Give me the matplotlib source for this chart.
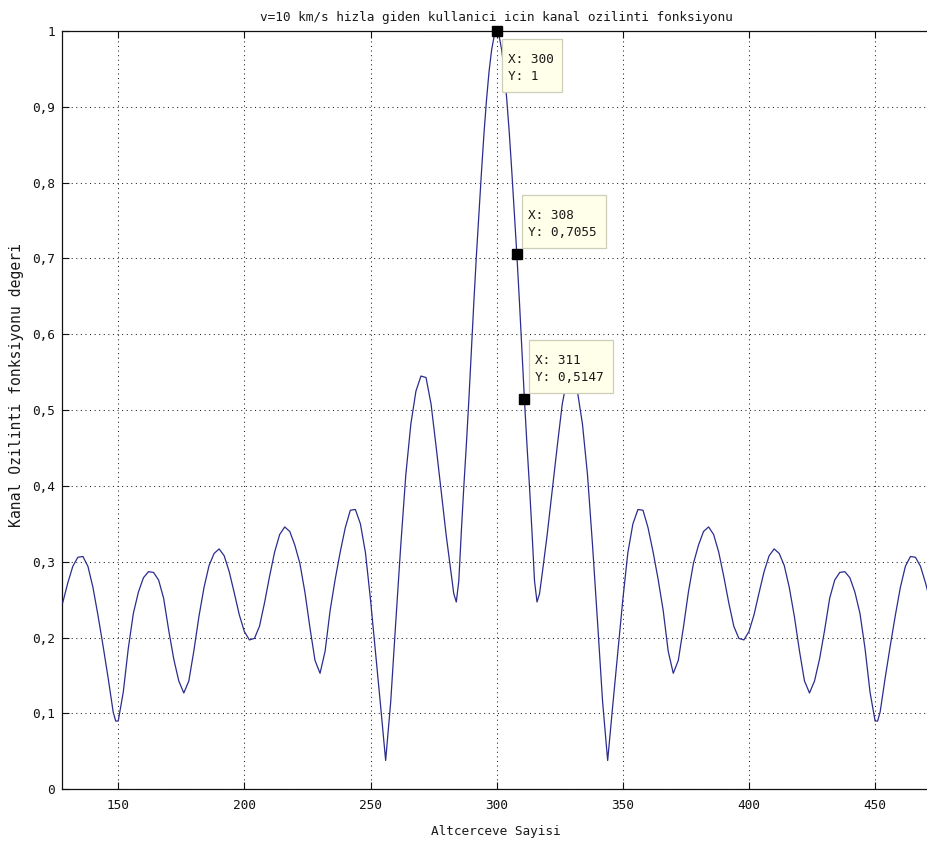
import matplotlib
matplotlib.use("Agg")
import matplotlib.pyplot as plt
from matplotlib.patches import Rectangle

# Channel correlation magnitude versus subcarrier index
subcarrier = [
    128, 130, 132, 134, 136, 138, 140, 142, 144, 146, 148, 149, 150,
    152, 154, 156, 158, 160, 162, 164, 166, 168, 170, 172, 174, 176,
    178, 180, 182, 184, 186, 188, 190, 192, 194, 196, 198, 200, 202,
    204, 206, 208, 210, 212, 214, 216, 218, 220, 222, 224, 226, 228,
    230, 232, 234, 236, 238, 240, 242, 244, 246, 248, 250, 252, 254,
    256, 258, 260, 262, 264, 266, 268, 270, 272, 274, 276, 278, 280,
    282, 283, 284, 285, 286, 287, 288, 289, 290, 291, 292, 293, 294,
    295, 296, 297, 298, 299, 300, 301, 302, 303, 304, 305, 306, 307,
    308, 309, 310, 311, 312, 313, 314, 315, 316, 317, 318, 320, 322,
    324, 326, 328, 330, 332, 334, 336, 338, 340, 342, 344, 346, 348,
    350, 352, 354, 356, 358, 360, 362, 364, 366, 368, 370, 372, 374,
    376, 378, 380, 382, 384, 386, 388, 390, 392, 394, 396, 398, 400,
    402, 404, 406, 408, 410, 412, 414, 416, 418, 420, 422, 424, 426,
    428, 430, 432, 434, 436, 438, 440, 442, 444, 446, 448, 450, 451,
    452, 454, 456, 458, 460, 462, 464, 466, 468, 470, 472,
]
correlation = [
    0.246, 0.272, 0.294, 0.306, 0.307, 0.294, 0.266, 0.229, 0.189, 0.147, 0.102, 0.090, 0.090,
    0.128, 0.186, 0.232, 0.260, 0.279, 0.287, 0.286, 0.276, 0.252, 0.210, 0.172, 0.143, 0.127,
    0.143, 0.183, 0.228, 0.266, 0.295, 0.311, 0.317, 0.308, 0.287, 0.259, 0.230, 0.208, 0.197,
    0.199, 0.215, 0.246, 0.281, 0.313, 0.336, 0.346, 0.340, 0.322, 0.298, 0.260, 0.213, 0.170,
    0.153, 0.182, 0.236, 0.277, 0.313, 0.345, 0.368, 0.369, 0.350, 0.312, 0.250, 0.180, 0.110,
    0.038, 0.115, 0.220, 0.322, 0.415, 0.482, 0.525, 0.545, 0.543, 0.508, 0.452, 0.394, 0.335,
    0.283, 0.258, 0.247, 0.275, 0.340, 0.400, 0.455, 0.5147, 0.580, 0.645, 0.7055, 0.760, 0.815,
    0.866, 0.910, 0.947, 0.975, 0.993, 1.000, 0.993, 0.975, 0.947, 0.910, 0.866, 0.815, 0.760,
    0.7055, 0.645, 0.580, 0.5147, 0.455, 0.400, 0.340, 0.275, 0.247, 0.258, 0.283, 0.335, 0.394,
    0.452, 0.508, 0.543, 0.545, 0.525, 0.482, 0.415, 0.322, 0.220, 0.115, 0.038, 0.110, 0.180,
    0.250, 0.312, 0.350, 0.369, 0.368, 0.345, 0.313, 0.277, 0.236, 0.182, 0.153, 0.170, 0.213,
    0.260, 0.298, 0.322, 0.340, 0.346, 0.336, 0.313, 0.281, 0.246, 0.215, 0.199, 0.197, 0.208,
    0.230, 0.259, 0.287, 0.308, 0.317, 0.311, 0.295, 0.266, 0.228, 0.183, 0.143, 0.127, 0.143,
    0.172, 0.210, 0.252, 0.276, 0.286, 0.287, 0.279, 0.260, 0.232, 0.186, 0.128, 0.090, 0.090,
    0.102, 0.147, 0.189, 0.229, 0.266, 0.294, 0.307, 0.306, 0.294, 0.272, 0.246,
]
tip_x = [300, 308, 311]

title_text = "v=10 km/s hizla giden kullanici icin kanal ozilinti fonksiyonu"
xlabel_text = "Altcerceve Sayisi"
ylabel_text = "Kanal Ozilinti fonksiyonu degeri"
xticks = [150, 200, 250, 300, 350, 400, 450]
yticks = [0, 0.1, 0.2, 0.3, 0.4, 0.5, 0.6, 0.7, 0.8, 0.9, 1]
ytick_labels = ["0", "0,1", "0,2", "0,3", "0,4", "0,5", "0,6", "0,7", "0,8", "0,9", "1"]

FONT = "DejaVu Sans Mono"
FS = 9.2
TXT = "#1a1a1a"
W, H = 928, 844

fig = plt.figure(figsize=(W / 100, H / 100), dpi=100)
fig.patch.set_facecolor("white")
ax = fig.add_axes([61.7 / W, 1 - 789.3 / H, 868.9 / W, 758.3 / H])

ax.plot(subcarrier, correlation, color="#2c2c8e", lw=0.9, zorder=3)
ax.set_xlim(127.6, 472)
ax.set_ylim(0, 1)

ax.set_xticks(xticks)
ax.set_xticklabels([str(t) for t in xticks], family=FONT, fontsize=FS, color=TXT)
ax.set_yticks(yticks)
ax.set_yticklabels(ytick_labels, family=FONT, fontsize=FS, color=TXT)
ax.tick_params(direction="in", length=5, width=0.8, top=True, right=False,
               colors="#111111")
ax.tick_params(axis="x", pad=7)
ax.tick_params(axis="y", pad=5)

ax.grid(True, color="#222222", linestyle=(0, (1, 3.4)), linewidth=0.75)
ax.spines["right"].set_visible(False)
for side in ("left", "bottom", "top"):
    ax.spines[side].set_linewidth(0.9)
    ax.spines[side].set_color("#111111")

ax.set_title(title_text, family=FONT, fontsize=FS, pad=7.4, color=TXT)
ax.set_xlabel(xlabel_text, family=FONT, fontsize=FS, color=TXT)
ax.set_ylabel(ylabel_text, family=FONT, fontsize=10.6, color=TXT)
ax.xaxis.set_label_coords(0.5, -0.047)
ax.yaxis.set_label_coords(-0.0435, 0.533)

# Data tips: black square marker with a pale yellow label box
to_fig = fig.transFigure.inverted()
for k, tx in enumerate(tip_x):
    ty = correlation[subcarrier.index(tx)]
    ax.plot(tx, ty, "s", color="black", ms=7, clip_on=False, zorder=6)
    px, py = ax.transData.transform((tx, ty))
    ytxt = f"{ty:g}".replace(".", ",")
    lines = [f"X: {tx}", f"Y: {ytxt}"]
    bw = 60 if k == 0 else 84
    bh = 53
    if k == 0:
        left, top = px + 5, py - 8
    else:
        left, top = px + 5, py + 6 + bh
    (x0, y0) = to_fig.transform((left, top - bh))
    (x1, y1) = to_fig.transform((left + bw, top))
    fig.add_artist(Rectangle((x0, y0), x1 - x0, y1 - y0, transform=fig.transFigure,
                             facecolor="#ffffea", edgecolor="#cdcdb8", lw=0.9, zorder=7))
    for j, s in enumerate(lines):
        bx, by = to_fig.transform((left + 6, top - 24 - 16.7 * j))
        fig.text(bx, by, s, family=FONT, fontsize=FS, ha="left", va="baseline",
                 color=TXT, zorder=8)

fig.savefig("out.png", dpi=100)
